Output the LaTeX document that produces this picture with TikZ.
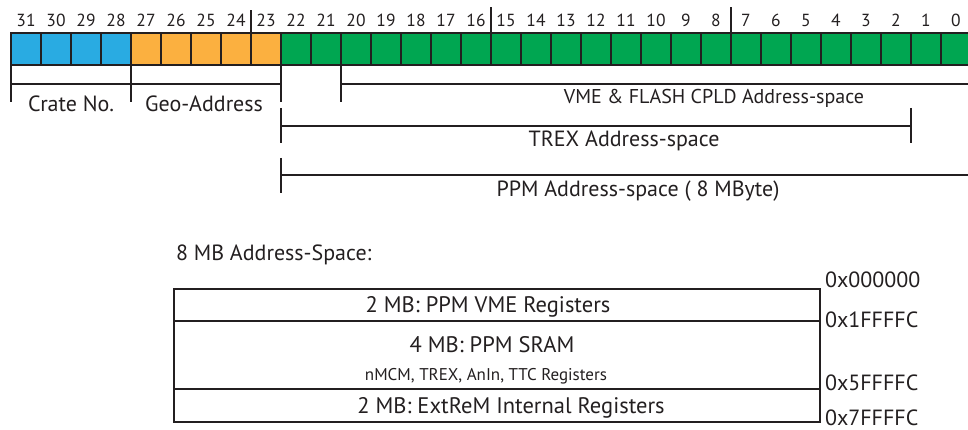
\documentclass[tikz,border=0pt]{standalone}
\usepackage{fontspec}
\setmainfont{PT Sans}
\definecolor{cblue}{HTML}{29ABE2}
\definecolor{corange}{HTML}{FBB040}
\definecolor{cgreen}{HTML}{00A651}
\definecolor{ink}{HTML}{231F20}
\begin{document}
\begin{tikzpicture}[x=1pt,y=-1pt,line width=2pt,
  cell/.style={draw=ink,line width=2pt,minimum width=30pt,minimum height=32pt,inner sep=0pt,outer sep=0pt},
  bitnum/.style={anchor=base,inner sep=0pt,text=ink,font=\fontsize{17.5}{20}\selectfont},
  lbl/.style={anchor=base,inner sep=0pt,text=ink,font=\fontsize{22}{26}\selectfont},
  boxtxt/.style={anchor=base,inner sep=0pt,text=ink,font=\fontsize{22.5}{26}\selectfont},
  small/.style={anchor=base,inner sep=0pt,text=ink,font=\fontsize{17}{20}\selectfont},
  addr/.style={anchor=base west,inner sep=0pt,text=ink,font=\fontsize{22}{26}\selectfont},
  region/.style={draw=ink,line width=2pt,minimum width=646pt,inner sep=0pt,outer sep=0pt},
  brk/.style={draw=ink,line width=2pt}]
\useasboundingbox (0,0) rectangle (968,430);
\clip (0,0) rectangle (968,430);
% register cells
\foreach \b in {31,...,28}{\node[cell,fill=cblue] (c\b) at ({26+30*(31-\b)},49) {};}
\foreach \b in {27,...,23}{\node[cell,fill=corange] (c\b) at ({26+30*(31-\b)},49) {};}
\foreach \b in {22,...,0}{\node[cell,fill=cgreen] (c\b) at ({26+30*(31-\b)},49) {};}
\foreach \b in {0,...,31}{\node[bitnum] (n\b) at ({26+30*(31-\b)},27) {\b};}
% ticks above
\draw[brk] (c23.north west) -- ++(0,-23);
\draw[brk] (c15.north west) -- ++(0,-26);
\draw[brk] (c7.north west) -- ++(0,-26);
% helper levels
\coordinate (yA) at (0,84);
\coordinate (yB) at (0,102);
\coordinate (yT1) at (0,108);
\coordinate (yT) at (0,126);
\coordinate (yT2) at (0,143);
\coordinate (yP1) at (0,158);
\coordinate (yP) at (0,175.5);
\coordinate (yP2) at (0,193);
\coordinate (xR) at (975,0);
% crate / geo brackets
\draw[brk] (c31.south west) -- (c31.south west |- yB);
\draw[brk] (c27.south west) -- (c27.south west |- yB);
\draw[brk] (c22.south west) -- (c22.south west |- yB);
\draw[brk] (c31.south west |- yA) -- (c22.south west |- yA);
% VME bracket
\draw[brk] (c20.south west) -- (c20.south west |- yB);
\draw[brk] (c20.south west |- yA) -- (xR |- yA);
% TREX bracket
\draw[brk] (c22.south west |- yT1) -- (c22.south west |- yT2);
\draw[brk] (c1.south west |- yT1) -- (c1.south west |- yT2);
\draw[brk] (c22.south west |- yT) -- (c1.south west |- yT);
% PPM bracket
\draw[brk] (c22.south west |- yP1) -- (c22.south west |- yP2);
\draw[brk] (c22.south west |- yP) -- (xR |- yP);
% labels
\node[lbl] (crate) at (71,112) {Crate No.};
\node[lbl] (geo) at (204,112) {Geo-Address};
\node[lbl,font=\fontsize{20}{24}\selectfont] (vme) at (714,104) {VME \& FLASH CPLD Address-space};
\node[lbl] (trex) at (624,147) {TREX Address-space};
\node[lbl] (ppm) at (638,197) {PPM Address-space ( 8 MByte)};
% memory map
\node[lbl,anchor=base west] (title) at (175,260) {8 MB Address-Space:};
\node[region,minimum height=32pt,anchor=north west] (r1) at (174,289) {};
\node[region,minimum height=68pt,anchor=north west] (r2) at (174,321) {};
\node[region,minimum height=33pt,anchor=north west] (r3) at (174,389) {};
\node[boxtxt] (t1) at (488,312) {2 MB: PPM VME Registers};
\node[boxtxt] (t2) at (492,352) {4 MB: PPM SRAM};
\node[small] (t2b) at (486,380) {nMCM, TREX, AnIn, TTC Registers};
\node[boxtxt] (t3) at (511,413) {2 MB: ExtReM Internal Registers};
\node[addr] (a0) at (824,287) {0x000000};
\node[addr] (a1) at (824,327) {0x1FFFFC};
\node[addr] (a2) at (824,390) {0x5FFFFC};
\node[addr] (a3) at (824,425) {0x7FFFFC};
\end{tikzpicture}
\end{document}
